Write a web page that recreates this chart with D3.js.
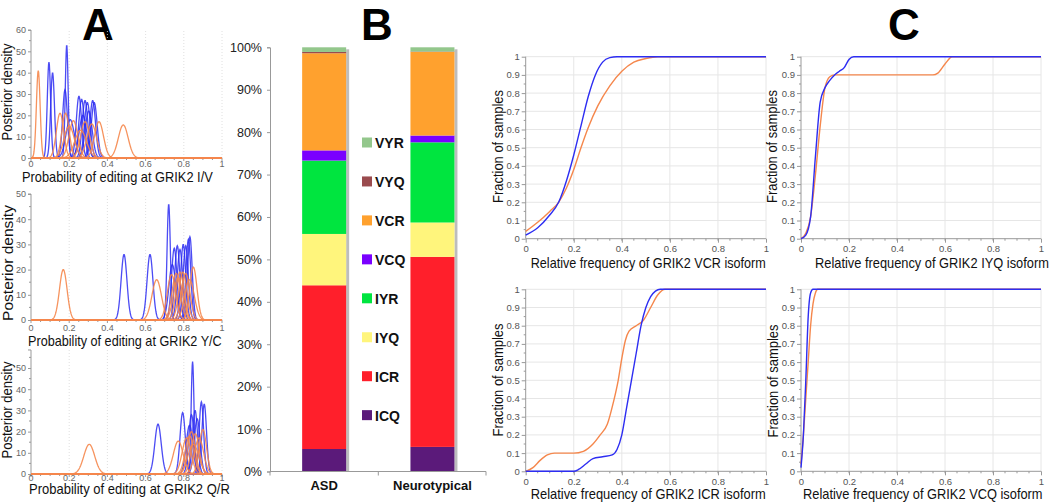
<!DOCTYPE html>
<html><head><meta charset="utf-8">
<script src="https://cdn.jsdelivr.net/npm/d3@7"></script>
<style>body{margin:0;background:#fff}svg{display:block}text{font-family:"Liberation Sans",Arial,sans-serif}</style>
</head><body>
<svg id="c" width="1050" height="502"></svg>
<script>
// ---------------- DATA ----------------
// Panel A: posterior density peaks [mean, peak height]
const ivBlue   = [[0.094,45],[0.113,40],[0.178,32],[0.187,53],[0.205,18],[0.251,29],[0.265,27.5],[0.272,20],[0.283,27],[0.295,26],[0.302,22],[0.323,27],[0.331,26]];
const ivOrange = [[0.038,41],[0.152,21],[0.181,21],[0.200,15],[0.222,17.5],[0.260,13],[0.283,17],[0.318,16],[0.356,17],[0.483,15.5]];
const ycBlue   = [[0.487,26],[0.623,26],[0.721,46],[0.740,22],[0.750,28.5],[0.766,29.5],[0.780,28],[0.797,30],[0.810,29.5],[0.824,32],[0.832,33]];
const ycOrange = [[0.169,20],[0.658,16],[0.736,18],[0.760,18.5],[0.770,17],[0.780,19],[0.795,19],[0.810,18.5],[0.830,16],[0.850,21]];
const qrBlue   = [[0.665,23.5],[0.794,29],[0.830,23],[0.840,28],[0.846,53],[0.859,30],[0.870,26],[0.892,34],[0.907,33]];
const qrOrange = [[0.305,14],[0.771,15.5],[0.815,17],[0.830,18],[0.840,20],[0.850,14],[0.860,19],[0.880,17],[0.900,21]];
const probTicks = [0,0.2,0.4,0.6,0.8,1];

// Panel B: isoform percentages
const isoforms  = ["ICQ","ICR","IYQ","IYR","VCQ","VCR","VYQ","VYR"];
const groups    = ["ASD","Neurotypical"];
const asdPct    = [5.3,38.6,12.1,17.3,2.4,22.9,0.3,1.1];
const ntPct     = [5.8,44.8,8.1,18.9,1.6,19.7,0.1,1.0];
const isoColors = ["#5b1a7a","#ff1f2b","#fff57c","#00e53f","#7a00ff","#ffa12e","#9a4b4e","#93c78c"];
const pctTicks  = [0,10,20,30,40,50,60,70,80,90,100];

// Panel C: cumulative distributions [x, fraction]
const vcrBlue   = [[0,0.02],[0.05,0.06],[0.1,0.13],[0.137,0.2],[0.17,0.32],[0.2,0.46],[0.23,0.62],[0.26,0.78],[0.29,0.9],[0.32,0.97],[0.35,0.995],[0.38,1],[1,1]];
const vcrOrange = [[0,0.04],[0.05,0.09],[0.1,0.15],[0.137,0.2],[0.17,0.28],[0.2,0.38],[0.23,0.5],[0.26,0.61],[0.3,0.73],[0.35,0.84],[0.4,0.92],[0.45,0.97],[0.5,0.99],[0.55,1],[1,1]];
const iyqBlue   = [[0,0],[0.02,0.02],[0.04,0.12],[0.06,0.45],[0.08,0.75],[0.1,0.83],[0.12,0.87],[0.14,0.9],[0.16,0.92],[0.18,0.94],[0.2,0.985],[0.22,1],[1,1]];
const iyqOrange = [[0,0],[0.02,0.03],[0.04,0.12],[0.06,0.35],[0.08,0.62],[0.1,0.83],[0.12,0.89],[0.14,0.9],[0.55,0.9],[0.57,0.91],[0.6,0.96],[0.63,1],[1,1]];
const icrBlue   = [[0,0],[0.2,0],[0.22,0.01],[0.25,0.04],[0.28,0.07],[0.32,0.08],[0.36,0.09],[0.38,0.12],[0.4,0.2],[0.42,0.35],[0.44,0.5],[0.46,0.65],[0.48,0.8],[0.5,0.9],[0.52,0.96],[0.54,0.99],[0.56,1],[1,1]];
const icrOrange = [[0,0],[0.03,0.02],[0.06,0.06],[0.09,0.09],[0.12,0.1],[0.2,0.1],[0.24,0.11],[0.28,0.15],[0.31,0.2],[0.34,0.26],[0.365,0.38],[0.385,0.5],[0.4,0.62],[0.415,0.72],[0.43,0.77],[0.46,0.8],[0.49,0.83],[0.52,0.9],[0.55,0.97],[0.58,1],[1,1]];
const vcqBlue   = [[0,0.02],[0.01,0.2],[0.02,0.5],[0.03,0.85],[0.04,0.98],[0.05,1],[1,1]];
const vcqOrange = [[0,0.04],[0.01,0.2],[0.02,0.4],[0.03,0.6],[0.04,0.8],[0.05,0.92],[0.06,0.98],[0.07,1],[1,1]];
const fracTicks = [0,0.1,0.2,0.3,0.4,0.5,0.6,0.7,0.8,0.9,1];

// ---------------- DRAWING ----------------
const BLUE = "#2d2df2", ORANGE = "#f5874c";
const svg = d3.select("#c");

// horizontally condensed label fitted to a target width
function fitText(parent, str, x, y, width, size, rotate) {
  const g = parent.append("g");
  const t = g.append("text").attr("font-size",size).attr("fill","#111").text(str);
  const len = t.node().getComputedTextLength();
  const k = width/len;
  if (rotate) {
    t.attr("text-anchor","middle");
    g.attr("transform",`translate(${x},${y}) rotate(-90) scale(${k},1)`);
  } else {
    g.attr("transform",`translate(${x},${y}) scale(${k},1)`);
  }
  return g;
}

// Panel titles
[["A",98],["B",377],["C",904]].forEach(([t,x]) => {
  svg.append("text").attr("x",x).attr("y",40).attr("text-anchor","middle")
    .attr("font-size",44).attr("font-weight","bold").attr("fill","#000").text(t);
});

// ---- Panel A ----
const xA = d3.scaleLinear().domain([0,1]).range([31,222]);
const panelsA = [
  {blue:ivBlue, orange:ivOrange, yMax:60, yTop:60, y0:158, y1:30, label:"Probability of editing at GRIK2 I/V", lx:[22,213], lb:182, yl:[12,92,97], tb:167},
  {blue:ycBlue, orange:ycOrange, yMax:50, yTop:50, y0:320, y1:194, label:"Probability of editing at GRIK2 Y/C", lx:[28,222], lb:346, yl:[13,263,116], tb:331},
  {blue:qrBlue, orange:qrOrange, yMax:50, yTop:58.5, y0:474, y1:368, label:"Probability of editing at GRIK2 Q/R", lx:[29,230], lb:494, yl:[12,410,97], tb:481}
];
const xs = d3.range(0,1.0001,0.002);
panelsA.forEach(p => {
  const y = d3.scaleLinear().domain([0,p.yMax]).range([p.y0,p.y1]);
  const g = svg.append("g");
  g.selectAll(".gv").data(probTicks.slice(1)).join("line")
    .attr("x1",d=>xA(d)).attr("x2",d=>xA(d)).attr("y1",y(0)).attr("y2",y(p.yTop))
    .attr("stroke","#d8d8d8").attr("stroke-dasharray","1,2").attr("stroke-width",0.8);
  const yt = d3.range(0,p.yTop+0.1,10);
  const ax = d3.axisLeft(y).tickValues(yt).tickSize(3).tickFormat(d3.format("d"));
  const ga = g.append("g").attr("transform",`translate(${xA(0)},0)`).call(ax);
  ga.select(".domain").attr("d",`M-3,${y(p.yTop)}H0V${y(0)}`).attr("stroke","#999");
  ga.selectAll(".tick line").attr("stroke","#999");
  ga.selectAll("text").attr("font-size",9).attr("fill","#666").attr("x",-5);
  g.selectAll(".my").data(d3.range(5,p.yTop,10)).join("line")
    .attr("x1",xA(0)-2).attr("x2",xA(0)).attr("y1",d=>y(d)).attr("y2",d=>y(d)).attr("stroke","#999");
  g.append("line").attr("x1",xA(0)).attr("x2",xA(1)).attr("y1",y(0)).attr("y2",y(0)).attr("stroke","#999");
  g.selectAll(".mx").data(d3.range(0,1.0001,0.05)).join("line")
    .attr("x1",d=>xA(d)).attr("x2",d=>xA(d)).attr("y1",y(0)).attr("y2",(d,i)=>y(0)+(i%4===0?3:2)).attr("stroke","#999");
  g.selectAll(".xl").data(probTicks).join("text")
    .attr("x",d=>xA(d)).attr("y",p.tb).attr("text-anchor","middle").attr("font-size",9).attr("fill","#666")
    .text(d=>d3.format("~g")(d));
  const line = d3.line().x(d=>xA(d[0])).y(d=>y(d[1]));
  const curve = ([m,h]) => { const s = 1/(h*Math.sqrt(2*Math.PI)); return xs.map(x=>[x, h*Math.exp(-0.5*((x-m)/s)**2)]); };
  g.selectAll(".cb").data(p.blue).join("path").attr("d",d=>line(curve(d)))
    .attr("fill","none").attr("stroke",BLUE).attr("stroke-width",1.3).attr("stroke-opacity",0.85);
  g.selectAll(".co").data(p.orange).join("path").attr("d",d=>line(curve(d)))
    .attr("fill","none").attr("stroke",ORANGE).attr("stroke-width",1.3).attr("stroke-opacity",0.9);
  fitText(g, p.label, p.lx[0], p.lb, p.lx[1]-p.lx[0], 14, false);
  fitText(g, "Posterior density", p.yl[0], p.yl[1], p.yl[2], 14, true);
});

// ---- Panel B ----
const yB = d3.scaleLinear().domain([0,100]).range([471.5,47.3]);
const xB = d3.scalePoint().domain(groups).range([270,486.6]).padding(0.5);
const barW = 44;
const rows = groups.map((gname,i) => { const o = {group:gname}; isoforms.forEach((k,j)=>o[k]=(i===0?asdPct:ntPct)[j]); return o; });
const stack = d3.stack().keys(isoforms)(rows);
const gB = svg.append("g");
gB.selectAll(".sh").data(groups).join("rect")
  .attr("x",d=>xB(d)+barW/2).attr("width",3).attr("y",yB(100)+2).attr("height",yB(0)-yB(100)-2).attr("fill","#bdbdbd");
stack.forEach((layer,j) => {
  gB.selectAll(".l"+j).data(layer).join("rect")
    .attr("x",d=>xB(d.data.group)-barW/2).attr("width",barW)
    .attr("y",d=>yB(d[1])).attr("height",d=>yB(d[0])-yB(d[1])).attr("fill",isoColors[j]);
});
const axB = gB.append("g").attr("transform","translate(270,0)")
  .call(d3.axisLeft(yB).tickValues(pctTicks).tickSize(3).tickFormat(d=>d+"%"));
axB.select(".domain").attr("stroke","#999");
axB.selectAll(".tick line").attr("stroke","#999");
axB.selectAll("text").attr("font-size",12.5).attr("fill","#222").attr("x",-8);
gB.append("line").attr("x1",270).attr("x2",486).attr("y1",yB(0)).attr("y2",yB(0)).attr("stroke","#999");
gB.selectAll(".bt").data([270,378.3,486]).join("line")
  .attr("x1",d=>d).attr("x2",d=>d).attr("y1",yB(0)).attr("y2",yB(0)+4).attr("stroke","#999");
gB.selectAll(".cl").data(groups).join("text")
  .attr("x",d=>xB(d)).attr("y",490).attr("text-anchor","middle").attr("font-size",13).attr("font-weight","bold").attr("fill","#111").text(d=>d);
const legendOrder = isoforms.slice().reverse();
legendOrder.forEach((k,i) => {
  const cy = 142.5 + i*38.95;
  const j = isoforms.indexOf(k);
  gB.append("rect").attr("x",362).attr("y",cy-5).attr("width",10).attr("height",10).attr("fill",isoColors[j]);
  gB.append("text").attr("x",375).attr("y",cy+5.5).attr("font-size",14).attr("font-weight","bold").attr("fill","#111").text(k);
});

// ---- Panel C ----
const cdfPanels = [
  {blue:vcrBlue, orange:vcrOrange, name:"VCR", x:[525.7,766], y:[238.7,56.7], xl:[530.7,766,268], yl:[503,146.5]},
  {blue:iyqBlue, orange:iyqOrange, name:"IYQ", x:[801,1041], y:[238.7,56.7], xl:[815,1049,268], yl:[777,146.5]},
  {blue:icrBlue, orange:icrOrange, name:"ICR", x:[525.7,766], y:[471.3,289.3], xl:[530.7,766,499], yl:[503,380]},
  {blue:vcqBlue, orange:vcqOrange, name:"VCQ", x:[801,1041], y:[471.3,289.3], xl:[803,1042.7,499], yl:[778,381]}
];
cdfPanels.forEach(p => {
  const x = d3.scaleLinear().domain([0,1]).range(p.x);
  const y = d3.scaleLinear().domain([0,1]).range(p.y);
  const g = svg.append("g");
  g.selectAll(".gx").data(probTicks.slice(1)).join("line")
    .attr("x1",d=>x(d)).attr("x2",d=>x(d)).attr("y1",y(0)).attr("y2",y(1)).attr("stroke","#e6e6e6");
  g.selectAll(".gy").data(fracTicks.slice(1)).join("line")
    .attr("x1",x(0)).attr("x2",x(1)).attr("y1",d=>y(d)).attr("y2",d=>y(d)).attr("stroke","#e6e6e6");
  const ay = g.append("g").attr("transform",`translate(${x(0)},0)`)
    .call(d3.axisLeft(y).tickValues(fracTicks).tickSize(4).tickFormat(d3.format("~g")));
  ay.select(".domain").attr("stroke","#999").attr("d",`M0,${y(1)}V${y(0)}`);
  ay.selectAll(".tick line").attr("stroke","#999");
  ay.selectAll("text").attr("font-size",9.5).attr("fill","#555").attr("x",-6);
  const axx = g.append("g").attr("transform",`translate(0,${y(0)})`)
    .call(d3.axisBottom(x).tickValues(probTicks).tickSize(4).tickFormat(d3.format("~g")));
  axx.select(".domain").attr("stroke","#999").attr("d",`M${x(0)},0H${x(1)}`);
  axx.selectAll(".tick line").attr("stroke","#999");
  axx.selectAll("text").attr("font-size",9.5).attr("fill","#555").attr("dy",null).attr("y",13.5);
  g.selectAll(".mx").data(d3.range(0.05,1,0.05)).join("line")
    .attr("x1",d=>x(d)).attr("x2",d=>x(d)).attr("y1",y(0)).attr("y2",y(0)+2).attr("stroke","#999");
  g.selectAll(".my").data(d3.range(0.05,1,0.1)).join("line")
    .attr("x1",x(0)-2).attr("x2",x(0)).attr("y1",d=>y(d)).attr("y2",d=>y(d)).attr("stroke","#999");
  const line = d3.line().x(d=>x(d[0])).y(d=>y(d[1])).curve(d3.curveMonotoneX);
  g.append("path").attr("d",line(p.orange)).attr("fill","none").attr("stroke",ORANGE).attr("stroke-width",1.4);
  g.append("path").attr("d",line(p.blue)).attr("fill","none").attr("stroke",BLUE).attr("stroke-width",1.4);
  fitText(g, `Relative frequency of GRIK2 ${p.name} isoform`, p.xl[0], p.xl[2], p.xl[1]-p.xl[0], 14, false);
  fitText(g, "Fraction of samples", p.yl[0], p.yl[1], 113, 15, true);
});
</script>
</body></html>
